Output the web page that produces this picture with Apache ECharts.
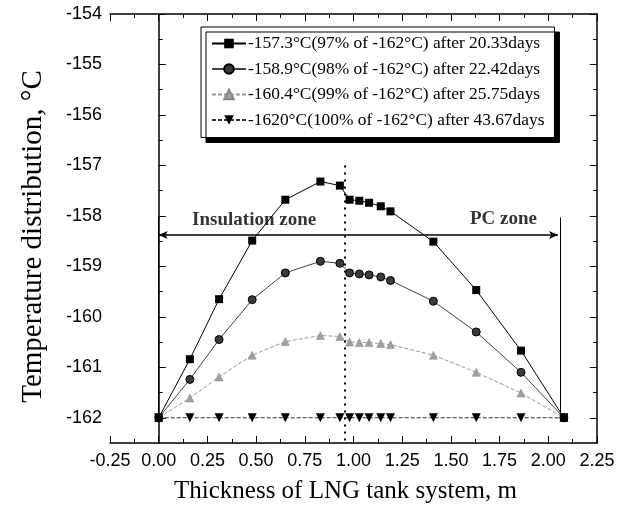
<!DOCTYPE html>
<html>
<head>
<meta charset="utf-8">
<script src="https://cdn.jsdelivr.net/npm/echarts@6/dist/echarts.min.js"></script>
<style>html,body{margin:0;padding:0;background:#fff}#c{width:627px;height:515px}</style>
</head>
<body>
<div id="c"></div>
<script>
// ---- data ----
const thickness = [0, 0.16, 0.31, 0.48, 0.65, 0.83, 0.93, 0.98, 1.03, 1.08, 1.14, 1.19, 1.41, 1.63, 1.86, 2.08];
const temp97  = [-162, -160.84, -159.65, -158.49, -157.68, -157.32, -157.40, -157.68, -157.70, -157.74, -157.81, -157.91, -158.51, -159.47, -160.67, -162];
const temp98  = [-162, -161.24, -160.45, -159.66, -159.13, -158.90, -158.94, -159.13, -159.15, -159.17, -159.21, -159.28, -159.69, -160.30, -161.10, -162];
const temp99  = [-162, -161.61, -161.19, -160.76, -160.49, -160.37, -160.39, -160.50, -160.51, -160.51, -160.53, -160.55, -160.76, -161.10, -161.51, -162];
const temp100 = [-162, -162, -162, -162, -162, -162, -162, -162, -162, -162, -162, -162, -162, -162, -162, -162];
const seriesNames = [
  '-157.3°C(97% of -162°C) after 20.33days',
  '-158.9°C(98% of -162°C) after 22.42days',
  '-160.4°C(99% of -162°C) after 25.75days',
  '-1620°C(100% of -162°C) after 43.67days'
];
const yTickLabels = [-162, -161, -160, -159, -158, -157, -156, -155, -154];
const yMinorTicks = [-161.5, -160.5, -159.5, -158.5, -157.5, -156.5, -155.5, -154.5];
const zoneLabels = ['Insulation zone', 'PC zone'];

// ---- chart ----
const SERIF = '"Liberation Serif", "Times New Roman", serif';
const SANS = '"Liberation Sans", Arial, sans-serif';
const pairs = ys => thickness.map((x, i) => [x, ys[i]]);

const chart = echarts.init(document.getElementById('c'), null, {renderer: 'canvas'});

const yBase = {type: 'value', min: -162.5, max: -154, splitLine: {show: false}};
const xBase = {type: 'value', min: -0.25, max: 2.25, interval: 0.25, splitLine: {show: false}};
const axisLine = {show: true, lineStyle: {color: '#000', width: 1.5}};

// annotation geometry in data units
const divX = 0.955, pcX = 2.05, arrowY = -158.38, zoneTop = -158.03;

chart.setOption({
  animation: false,
  backgroundColor: '#fff',
  grid: {left: 110, right: 30, top: 14, bottom: 72},
  legend: {
    orient: 'vertical', left: 201, top: 27,
    data: seriesNames,
    itemWidth: 34, itemHeight: 12, itemGap: 8.5,
    padding: [8, 10, 9, 10],
    backgroundColor: '#fff', borderColor: '#000', borderWidth: 1,
    shadowColor: '#000', shadowBlur: 0, shadowOffsetX: 5, shadowOffsetY: 5,
    textStyle: {fontFamily: SERIF, fontSize: 17.4, color: '#000', padding: [0, 0, 0, -3]}
  },
  xAxis: [
    Object.assign({}, xBase, {
      position: 'bottom',
      name: 'Thickness of LNG tank system, m', nameLocation: 'middle', nameGap: 36,
      nameTextStyle: {fontFamily: SERIF, fontSize: 25, color: '#000', padding: [0, 16, 0, 0]},
      axisLine: axisLine,
      axisTick: {inside: true, length: 7, lineStyle: {color: '#000'}},
      minorTick: {show: true, splitNumber: 2, length: 4, lineStyle: {color: '#000'}},
      axisLabel: {fontFamily: SANS, fontSize: 18, color: '#000', margin: 9, formatter: v => v.toFixed(2)}
    }),
    Object.assign({}, xBase, {
      position: 'top',
      axisLine: axisLine,
      axisTick: {inside: true, length: 7, lineStyle: {color: '#000'}},
      minorTick: {show: true, splitNumber: 2, length: 4, lineStyle: {color: '#000'}},
      axisLabel: {show: false}
    })
  ],
  yAxis: [
    Object.assign({}, yBase, {
      position: 'left',
      name: 'Temperature distribution, °C', nameLocation: 'middle', nameGap: 62,
      nameTextStyle: {fontFamily: SERIF, fontSize: 29, color: '#000', padding: [0, 16, 0, 0]},
      axisLine: axisLine,
      axisTick: {inside: true, length: 7, customValues: yTickLabels, lineStyle: {color: '#000'}},
      axisLabel: {fontFamily: SANS, fontSize: 18, color: '#000', margin: 8, customValues: yTickLabels}
    }),
    Object.assign({}, yBase, {
      position: 'left',
      axisLine: {show: false},
      axisTick: {inside: true, length: 4, customValues: yMinorTicks, lineStyle: {color: '#000'}},
      axisLabel: {show: false}
    }),
    Object.assign({}, yBase, {
      position: 'right',
      axisLine: axisLine,
      axisTick: {inside: true, length: 7, customValues: yTickLabels, lineStyle: {color: '#000'}},
      axisLabel: {show: false}
    }),
    Object.assign({}, yBase, {
      position: 'right',
      axisLine: {show: false},
      axisTick: {inside: true, length: 4, customValues: yMinorTicks, lineStyle: {color: '#000'}},
      axisLabel: {show: false}
    })
  ],
  series: [
    {
      name: 'annotations', type: 'scatter', silent: true, z: 1,
      data: [[0.49, -158.09, zoneLabels[0]], [1.77, -158.07, zoneLabels[1]]],
      symbolSize: 0,
      label: {show: true, position: 'inside', formatter: p => p.value[2],
        fontFamily: SERIF, fontWeight: 'bold', fontSize: 19, color: '#000'},
      markLine: {
        silent: true, symbol: ['none', 'none'], label: {show: false},
        lineStyle: {color: '#000', width: 1, type: 'solid'},
        data: [
          [{coord: [0, zoneTop]}, {coord: [0, -162]}],
          [{coord: [pcX + 0.01, zoneTop]}, {coord: [pcX + 0.01, -162]}],
          [{coord: [0, arrowY], symbol: 'arrow', symbolSize: [6, 9], lineStyle: {width: 1.6}},
           {coord: [pcX, arrowY], symbol: 'arrow', symbolSize: [6, 9]}],
          [{coord: [divX, -157.0], lineStyle: {type: [2, 5], width: 2}},
           {coord: [divX, -162.5]}]
        ]
      }
    },
    {
      name: seriesNames[0], type: 'line', data: pairs(temp97), z: 5,
      symbol: 'rect', symbolSize: 8,
      itemStyle: {color: '#000'},
      lineStyle: {color: '#000', width: 1}
    },
    {
      name: seriesNames[1], type: 'line', data: pairs(temp98), z: 4,
      symbol: 'circle', symbolSize: 8,
      itemStyle: {color: '#3a3a3a', borderColor: '#000', borderWidth: 1},
      lineStyle: {color: '#444', width: 1}
    },
    {
      name: seriesNames[2], type: 'line', data: pairs(temp99), z: 3,
      symbol: 'triangle', symbolSize: 8,
      itemStyle: {color: '#a0a0a0', borderColor: '#888', borderWidth: 0.5},
      lineStyle: {color: '#999', width: 1, type: [4, 2]}
    },
    {
      name: seriesNames[3], type: 'line', data: pairs(temp100), z: 4,
      symbol: 'triangle', symbolRotate: 180, symbolSize: 9,
      itemStyle: {color: '#000'},
      lineStyle: {color: '#333', width: 1, type: [4, 2]}
    }
  ]
});
</script>
</body>
</html>
